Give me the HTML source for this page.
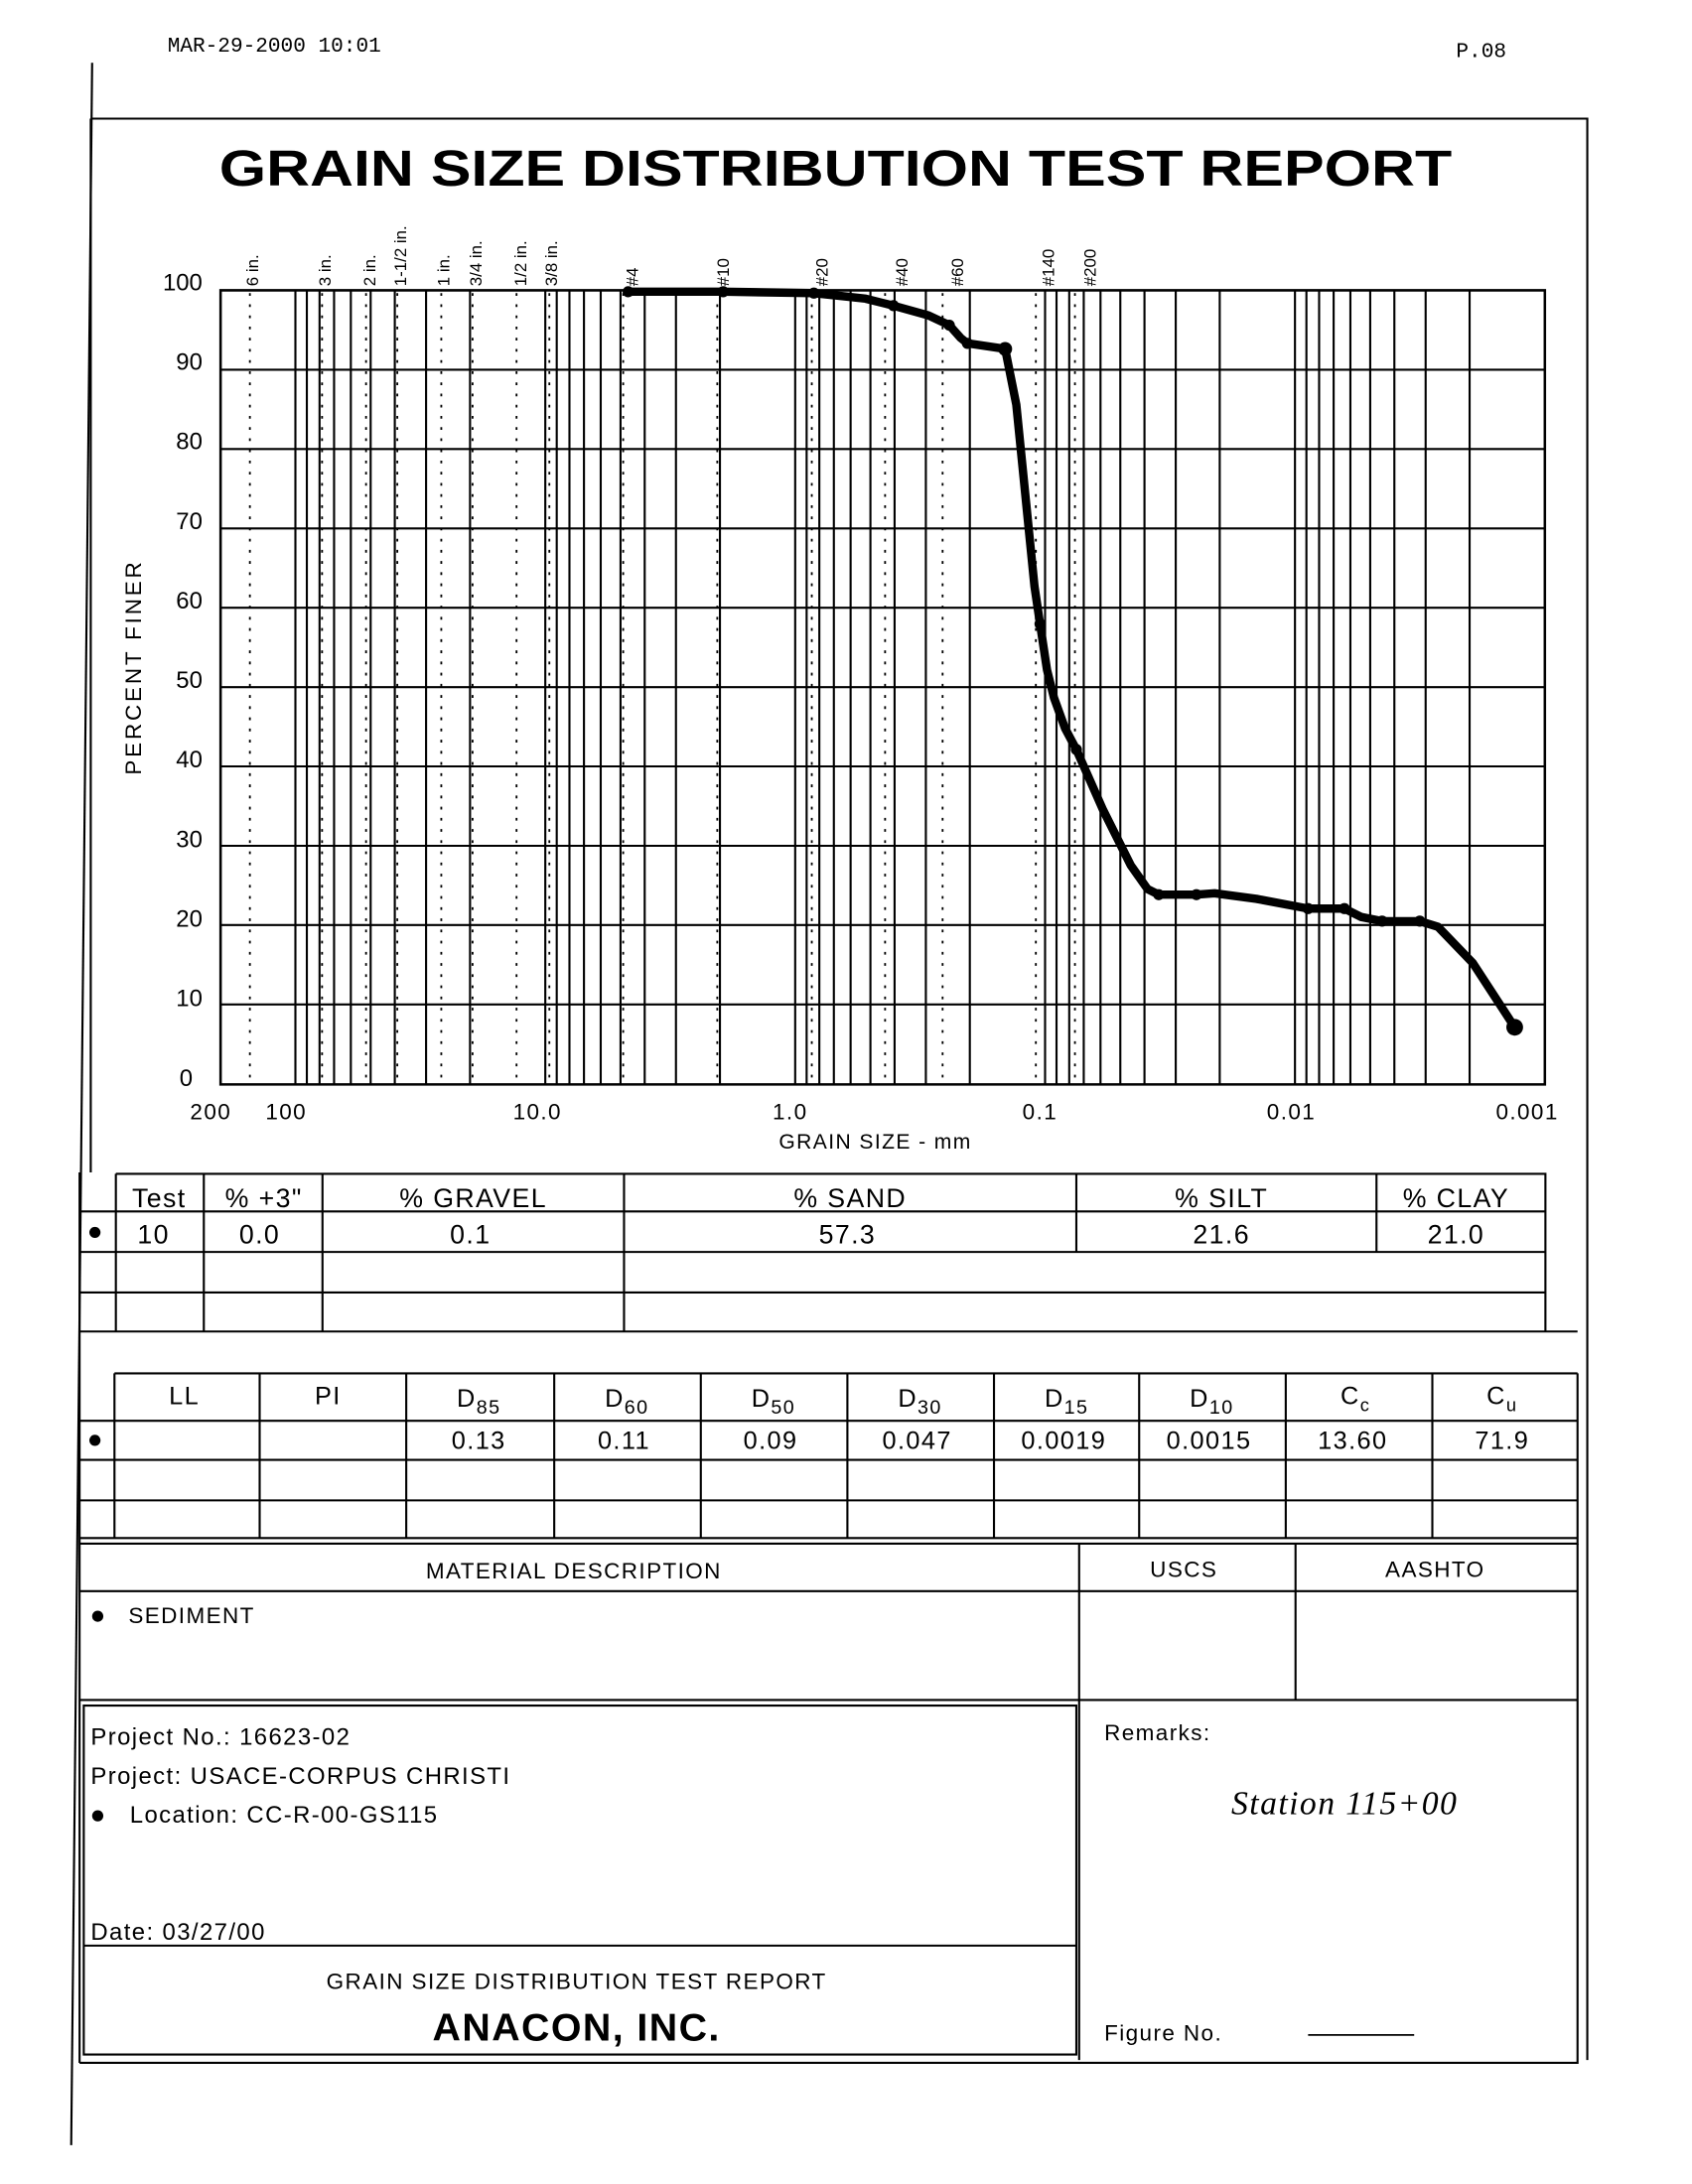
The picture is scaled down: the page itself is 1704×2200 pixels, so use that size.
<!DOCTYPE html>
<html><head><meta charset="utf-8"><style>
html,body{margin:0;padding:0;background:#fff}
svg{display:block}
text{font-family:"Liberation Sans",sans-serif;fill:#000}
</style></head><body>
<svg width="1704" height="2200" viewBox="0 0 1212 1564.8" preserveAspectRatio="none" xmlns="http://www.w3.org/2000/svg">
<rect x="0" y="0" width="1212" height="1565" fill="#fff"/>
<text x="120" y="37" font-size="15" style="font-family:'Liberation Mono',monospace">MAR-29-2000  10:01</text>
<text x="1043" y="41" font-size="15" style="font-family:'Liberation Mono',monospace">P.08</text>
<line x1="66" y1="45" x2="51" y2="1537" stroke="#000" stroke-width="1.5"/>
<path d="M65 85 H1137 V1476 M65 85 V840" fill="none" stroke="#000" stroke-width="1.5"/>
<text x="157" y="133" font-size="36" font-weight="bold" textLength="883" lengthAdjust="spacingAndGlyphs">GRAIN SIZE DISTRIBUTION TEST REPORT</text>

<g stroke="#000" stroke-width="1.5" fill="none">
<path d="M211.6 208V777 M219.8 208V777 M228.9 208V777 M239.3 208V777 M251.3 208V777 M265.5 208V777 M282.8 208V777 M305.2 208V777 M336.7 208V777 M390.6 208V777
M398.8 208V777 M407.9 208V777 M418.3 208V777 M430.3 208V777 M444.5 208V777 M461.8 208V777 M484.2 208V777 M515.7 208V777 M569.6 208V777
M577.8 208V777 M586.9 208V777 M597.3 208V777 M609.3 208V777 M623.5 208V777 M640.8 208V777 M663.2 208V777 M694.7 208V777 M748.6 208V777
M756.8 208V777 M765.9 208V777 M776.3 208V777 M788.3 208V777 M802.5 208V777 M819.8 208V777 M842.2 208V777 M873.7 208V777 M927.6 208V777
M935.8 208V777 M944.9 208V777 M955.3 208V777 M967.3 208V777 M981.5 208V777 M998.8 208V777 M1021.2 208V777 M1052.7 208V777"/>
<path d="M158 208 H1106.6 V777 H158 Z" stroke-width="1.8"/>
<path d="M158 264.9H1106.6 M158 321.7H1106.6 M158 378.6H1106.6 M158 435.4H1106.6 M158 492.3H1106.6 M158 549.1H1106.6 M158 606H1106.6 M158 662.8H1106.6 M158 719.7H1106.6"/>
</g>
<g stroke="#000" stroke-width="1.3" stroke-dasharray="2,6" fill="none">
<path d="M179 210V777 M230.7 210V777 M262.2 210V777 M284.6 210V777 M316.1 210V777 M338.5 210V777 M370 210V777 M393.5 210V777 M446.4 210V777 M513.8 210V777 M581.5 210V777 M634 210V777 M675.2 210V777 M742 210V777 M770 210V777"/>
</g>
<g font-size="12">
<text transform="translate(185 205) rotate(-90)">6 in.</text>
<text transform="translate(237 205) rotate(-90)">3 in.</text>
<text transform="translate(269 205) rotate(-90)">2 in.</text>
<text transform="translate(291 205) rotate(-90)">1-1/2 in.</text>
<text transform="translate(322 205) rotate(-90)">1 in.</text>
<text transform="translate(345 205) rotate(-90)">3/4 in.</text>
<text transform="translate(377 205) rotate(-90)">1/2 in.</text>
<text transform="translate(399 205) rotate(-90)">3/8 in.</text>
<text transform="translate(457 205) rotate(-90)">#4</text>
<text transform="translate(522 205) rotate(-90)">#10</text>
<text transform="translate(593 205) rotate(-90)">#20</text>
<text transform="translate(650 205) rotate(-90)">#40</text>
<text transform="translate(690 205) rotate(-90)">#60</text>
<text transform="translate(755 205) rotate(-90)">#140</text>
<text transform="translate(785 205) rotate(-90)">#200</text>
</g>
<g font-size="17" text-anchor="end">
<text x="145" y="208">100</text><text x="145" y="265">90</text><text x="145" y="322">80</text><text x="145" y="379">70</text><text x="145" y="436">60</text><text x="145" y="493">50</text><text x="145" y="550">40</text><text x="145" y="607">30</text><text x="145" y="664">20</text><text x="145" y="721">10</text><text x="138" y="778">0</text>
</g>
<text transform="translate(101 478) rotate(-90)" font-size="16" text-anchor="middle" letter-spacing="2">PERCENT FINER</text>
<g font-size="16" text-anchor="middle" letter-spacing="1">
<text x="151" y="802">200</text><text x="205" y="802">100</text><text x="385" y="802">10.0</text><text x="566" y="802">1.0</text><text x="745" y="802">0.1</text><text x="925" y="802">0.01</text><text x="1094" y="802">0.001</text>
<text x="627" y="823" font-size="15">GRAIN SIZE - mm</text>
</g>
<polyline fill="none" stroke="#000" stroke-width="6" stroke-linejoin="round" stroke-linecap="round"
points="450,209 518,209 583,210 620,214 640,219 665,226 680,233 688,242 693,246 720,250 728,290 735,360 741,420 745,447 750,480 755,500 763,522 771,537 790,580 810,620 822,637 830,641 857,641 870,640 900,644 937,651 963,651 975,657 990,660 1017,660 1030,664 1055,690 1085,736"/>
<g fill="#000">
<circle cx="450" cy="209" r="4"/><circle cx="518" cy="209" r="4"/><circle cx="583" cy="210" r="4"/><circle cx="640" cy="219" r="4"/><circle cx="680" cy="233" r="4"/><circle cx="693" cy="246" r="4"/><circle cx="720" cy="250" r="5"/><circle cx="745" cy="447" r="4"/><circle cx="771" cy="537" r="4"/><circle cx="830" cy="641" r="4"/><circle cx="857" cy="641" r="4"/><circle cx="937" cy="651" r="4"/><circle cx="963" cy="651" r="4"/><circle cx="990" cy="660" r="4"/><circle cx="1017" cy="660" r="4"/><circle cx="1085" cy="736" r="6"/>
</g>

<g stroke="#000" stroke-width="1.5" fill="none">
<path d="M83 841 H1107 V954 M57 868 H1107 M57 897 H1107 M57 926 H1107 M57 954 H1130 M57 840 V1478 M83 841 V954 M146 841 V954 M231 841 V954 M447 841 V954 M771 841 V897 M986 841 V897"/>
</g>
<g font-size="19" text-anchor="middle" letter-spacing="1">
<text x="114" y="865">Test</text><text x="189" y="865">% +3"</text><text x="339" y="865">% GRAVEL</text><text x="609" y="865">% SAND</text><text x="875" y="865">% SILT</text><text x="1043" y="865">% CLAY</text>
<text x="110" y="891">10</text><text x="186" y="891">0.0</text><text x="337" y="891">0.1</text><text x="607" y="891">57.3</text><text x="875" y="891">21.6</text><text x="1043" y="891">21.0</text>
</g>
<circle cx="68" cy="883" r="4" fill="#000"/>

<g stroke="#000" stroke-width="1.5" fill="none">
<path d="M82 984 H1130 M57 1018 H1130 M57 1046 H1130 M57 1075 H1130 M57 1102 H1130 M57 1106 H1130 V984
M82 984V1102 M186 984V1102 M291 984V1102 M397 984V1102 M502 984V1102 M607 984V1102 M712 984V1102 M816 984V1102 M921 984V1102 M1026 984V1102"/>
</g>
<g font-size="18" text-anchor="middle" letter-spacing="1">
<text x="132" y="1006">LL</text><text x="235" y="1006">PI</text>
<text x="343" y="1008">D<tspan font-size="14" dy="5">85</tspan></text>
<text x="449" y="1008">D<tspan font-size="14" dy="5">60</tspan></text>
<text x="554" y="1008">D<tspan font-size="14" dy="5">50</tspan></text>
<text x="659" y="1008">D<tspan font-size="14" dy="5">30</tspan></text>
<text x="764" y="1008">D<tspan font-size="14" dy="5">15</tspan></text>
<text x="868" y="1008">D<tspan font-size="14" dy="5">10</tspan></text>
<text x="971" y="1006">C<tspan font-size="13" dy="5">c</tspan></text>
<text x="1076" y="1006">C<tspan font-size="13" dy="5">u</tspan></text>
<text x="343" y="1038">0.13</text><text x="447" y="1038">0.11</text><text x="552" y="1038">0.09</text><text x="657" y="1038">0.047</text><text x="762" y="1038">0.0019</text><text x="866" y="1038">0.0015</text><text x="969" y="1038">13.60</text><text x="1076" y="1038">71.9</text>
</g>
<circle cx="68" cy="1032" r="4" fill="#000"/>

<g stroke="#000" stroke-width="1.5" fill="none">
<path d="M57 1140 H1130 M57 1218 H1130 V1106 M773 1106 V1476 M928 1106 V1218 M57 1478 H1130 V1218 M60 1222 H771 V1472 H60 Z M60 1394 H771"/>
</g>
<g font-size="16" letter-spacing="1">
<text x="411" y="1131" text-anchor="middle">MATERIAL DESCRIPTION</text>
<text x="848" y="1130" text-anchor="middle">USCS</text>
<text x="1028" y="1130" text-anchor="middle">AASHTO</text>
<text x="92" y="1163">SEDIMENT</text>
<text x="65" y="1250" font-size="17">Project No.: 16623-02</text>
<text x="65" y="1278" font-size="17">Project: USACE-CORPUS CHRISTI</text>
<text x="93" y="1306" font-size="17">Location: CC-R-00-GS115</text>
<text x="65" y="1390" font-size="17">Date: 03/27/00</text>
<text x="413" y="1425" text-anchor="middle">GRAIN SIZE DISTRIBUTION TEST REPORT</text>
<text x="791" y="1247">Remarks:</text>
<text x="791" y="1462">Figure No.</text>
</g>
<circle cx="70" cy="1158" r="4" fill="#000"/>
<circle cx="70" cy="1301" r="4" fill="#000"/>
<text x="413" y="1462" text-anchor="middle" font-size="28" font-weight="bold" letter-spacing="1">ANACON, INC.</text>
<line x1="937" y1="1458" x2="1013" y2="1458" stroke="#000" stroke-width="1.2"/>
<text x="882" y="1300" font-size="24" font-style="italic" style="font-family:'Liberation Serif',serif" letter-spacing="1">Station 115+00</text>
</svg>
</body></html>
